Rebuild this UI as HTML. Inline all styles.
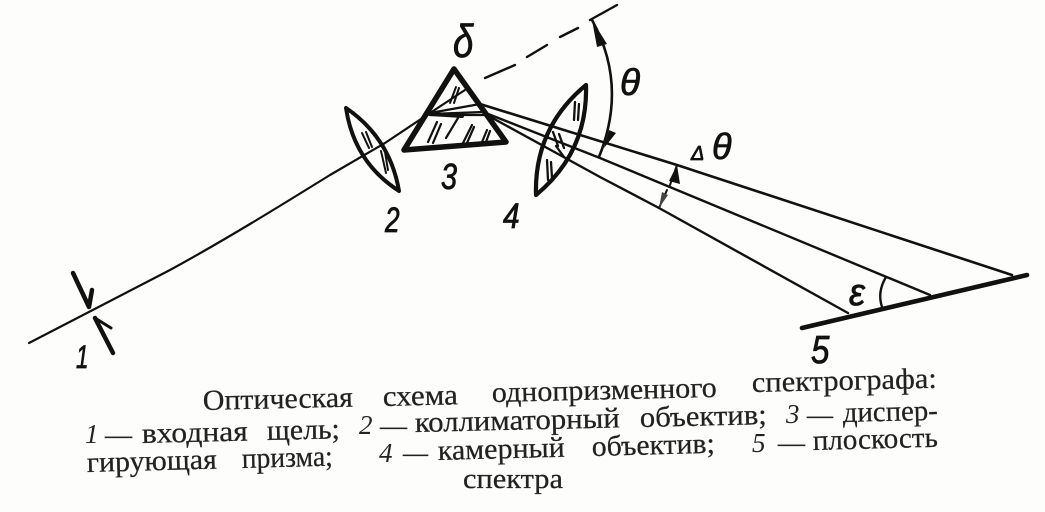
<!DOCTYPE html>
<html><head><meta charset="utf-8"><style>
html,body{margin:0;padding:0;background:#fdfdfb}
svg{display:block}
.t{font-family:"Liberation Serif",serif;font-size:29px;fill:#222;stroke:#222;stroke-width:.25}
.n{font-family:"Liberation Serif",serif;font-size:27px;font-style:italic;fill:#222}
.l{font-family:"Liberation Sans",sans-serif;font-style:italic;fill:#111;stroke:#111;stroke-width:.8}
</style></head><body>
<svg width="1045" height="512" viewBox="0 0 1045 512" xmlns="http://www.w3.org/2000/svg">
<rect width="1045" height="512" fill="#fdfdfb"/>
<g fill="none" stroke="#111" stroke-linecap="round" stroke-linejoin="round">
<!-- incoming ray -->
<path d="M29 343 L170 270 C225 240 280 206 330 175 L385 143 L430 113 L468 88" stroke-width="2.2"/>
<path d="M485 78L515 65M527 57L547 45M560 37L578 28M590 20L617 5" stroke-width="2.4"/>
<!-- slit -->
<path d="M73 273L89 307L92 290" stroke-width="4.5"/>
<path d="M95 318L113 353" stroke-width="4.5"/>
<path d="M95 318L111 328" stroke-width="3"/>
<!-- lens 2 -->
<path d="M346 108Q354 162 399 191Q390 138 346 108Z" stroke-width="4"/>
<!-- prism -->
<path d="M454 69L404 150L506 142Z" stroke-width="5.5"/>
<!-- rays in prism -->
<path d="M430 113L480 104M430 114L483 112M430 115L487 115" stroke-width="2.2"/>
<path d="M430 114L462 116" stroke-width="4"/>
<!-- lens 4 -->
<path d="M586 85Q588 152 536 195Q534 128 586 85Z" stroke-width="4.2"/>
<!-- outgoing rays -->
<path d="M480 104L677 165L1012 275" stroke-width="2.6"/>
<path d="M483 112L600 158L930 295" stroke-width="2.4"/>
<path d="M487 115L600 177L659 208L848 313" stroke-width="2.4"/>
<!-- detector -->
<path d="M802 328L1027 275" stroke-width="4.6"/>
<!-- epsilon arc -->
<path d="M886 277Q877 292 882 307" stroke-width="2.4"/>
<!-- theta arc -->
<path d="M592 20Q628 85 599 157" stroke-width="2.6"/>
<!-- delta theta tick -->
<path d="M677 165L670 185M667 190L659 208" stroke-width="2" stroke-dasharray="6 2"/>
<!-- hatching -->
<path d="M362 133L369 148M366 132L372 147M381 151L386 173M385 152L388 170" stroke-width="2"/>
<path d="M450 103L456 87M454 103L459 88" stroke-width="2"/>
<path d="M428 142L437 122M433 143L441 124M446 138L458 118M463 143L472 125M467 143L474 127M482 142L487 130M486 142L490 131" stroke-width="2.2"/>
<path d="M548 180L547 160M552 178L551 162M574 120L575 102M578 120L579 104M553 132L558 146M559 134L564 148M556 146L564 157" stroke-width="2.3"/>
</g>
<g fill="#111">
<path d="M592 20L607 44L597 47Z"/>
<path d="M604 148L609 130L616 133Z"/>
<path d="M677 165L680 184L669 181Z"/>
<path d="M659 208L662 192L668 195Z" fill="#444"/>
</g>
<text class="l" font-size="46" transform="translate(453 57) scale(.8 1)">δ</text>
<text class="l" font-size="37" stroke-width="1.2" transform="translate(620 95)">θ</text>
<text class="l" x="691" y="160" font-size="20">Δ</text>
<text class="l" font-size="36" stroke-width="1.2" transform="translate(712 159)">θ</text>
<text class="l" font-size="38" transform="translate(849 305) scale(.95 1)">ε</text>
<text class="l" font-size="32" transform="translate(76 368) scale(.7 1)">1</text>
<text class="l" font-size="35" transform="translate(385 232) scale(.75 1)">2</text>
<text class="l" font-size="36" transform="translate(441 189) scale(.8 1)">3</text>
<text class="l" font-size="35" transform="translate(503 228) scale(.85 1)">4</text>
<text class="l" font-size="39" transform="translate(811 363) scale(.85 1)">5</text>
<!-- caption -->
<text class="t" x="203" y="410" textLength="150" lengthAdjust="spacingAndGlyphs" transform="rotate(-1.3 203 410)">Оптическая</text>
<text class="t" x="383" y="406" textLength="75" lengthAdjust="spacingAndGlyphs" transform="rotate(-1.3 383 406)">схема</text>
<text class="t" x="492" y="402" textLength="225" lengthAdjust="spacingAndGlyphs" transform="rotate(-1.3 492 402)">однопризменного</text>
<text class="t" x="752" y="392" textLength="185" lengthAdjust="spacingAndGlyphs" transform="rotate(-1.3 752 392)">спектрографа:</text>
<text class="n" x="85" y="443">1</text>
<text class="t" x="105" y="444" textLength="27" lengthAdjust="spacingAndGlyphs">—</text>
<text class="t" x="142" y="443" textLength="106" lengthAdjust="spacingAndGlyphs" transform="rotate(-1.3 142 443)">входная</text>
<text class="t" x="267" y="440" textLength="73" lengthAdjust="spacingAndGlyphs" transform="rotate(-1.3 267 440)">щель;</text>
<text class="n" x="359" y="434">2</text>
<text class="t" x="380" y="435" textLength="27" lengthAdjust="spacingAndGlyphs">—</text>
<text class="t" x="415" y="432" textLength="205" lengthAdjust="spacingAndGlyphs" transform="rotate(-1.3 415 432)">коллиматорный</text>
<text class="t" x="640" y="427" textLength="127" lengthAdjust="spacingAndGlyphs" transform="rotate(-1.3 640 427)">объектив;</text>
<text class="n" x="786" y="423">3</text>
<text class="t" x="807" y="424" textLength="26" lengthAdjust="spacingAndGlyphs">—</text>
<text class="t" x="843" y="422" textLength="95" lengthAdjust="spacingAndGlyphs" transform="rotate(-1.3 843 422)">диспер-</text>
<text class="t" x="87" y="472" textLength="130" lengthAdjust="spacingAndGlyphs" transform="rotate(-1.5 87 472)">гирующая</text>
<text class="t" x="242" y="468" textLength="91" lengthAdjust="spacingAndGlyphs" transform="rotate(-1.5 242 468)">призма;</text>
<text class="n" x="379" y="462">4</text>
<text class="t" x="403" y="462" textLength="25" lengthAdjust="spacingAndGlyphs">—</text>
<text class="t" x="438" y="460" textLength="127" lengthAdjust="spacingAndGlyphs" transform="rotate(-1.5 438 460)">камерный</text>
<text class="t" x="592" y="456" textLength="123" lengthAdjust="spacingAndGlyphs" transform="rotate(-1.5 592 456)">объектив;</text>
<text class="n" x="752" y="452">5</text>
<text class="t" x="778" y="452" textLength="27" lengthAdjust="spacingAndGlyphs">—</text>
<text class="t" x="813" y="450" textLength="125" lengthAdjust="spacingAndGlyphs" transform="rotate(-1.5 813 450)">плоскость</text>
<text class="t" x="463" y="488" textLength="100" lengthAdjust="spacingAndGlyphs">спектра</text>
</svg>
</body></html>
